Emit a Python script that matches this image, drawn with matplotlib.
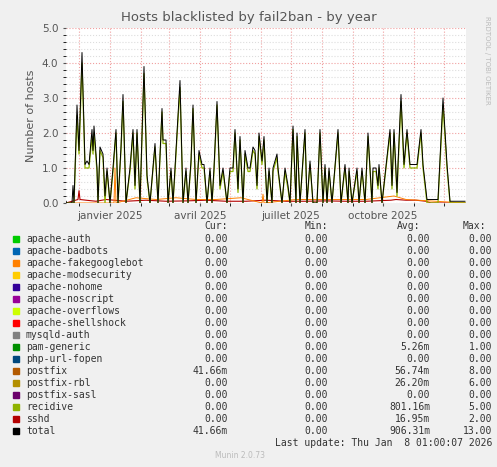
import matplotlib
matplotlib.use('Agg')
import matplotlib.pyplot as plt
import matplotlib.dates as mdates
import numpy as np
import datetime as dt

START = dt.datetime(2024, 11, 18)

# total: day offset from START, value
total_days = [0, 1, 6, 7, 8, 11, 13, 16, 19, 21, 23, 26, 27, 28, 31, 32, 34, 37, 39, 41, 44, 47, 50, 52, 55, 57,
              60, 64, 67, 69, 71, 74, 78, 81, 84, 89, 92, 96, 97, 100, 102, 105, 107, 109, 111, 114, 117, 120,
              122, 125, 127, 130, 133, 136, 138, 141, 144, 146, 148, 151, 154, 157, 161, 164, 167, 169, 172,
              174, 177, 179, 182, 184, 187, 189, 191, 193, 196, 198, 201, 203, 206, 207, 211, 212, 216, 219,
              222, 224, 227, 230, 231, 234, 239, 241, 244, 247, 251, 254, 257, 259, 261, 263, 266, 272, 275,
              279, 282, 283, 286, 291, 293, 296, 299, 302, 306, 307, 310, 312, 313, 316, 324, 326, 328, 331,
              332, 335, 338, 341, 344, 351, 355, 357, 361, 372, 377, 381, 384, 399]
total_vals = [0.05, 0.0, 0.0, 0.5, 0.0, 2.8, 1.5, 4.3, 1.1, 1.2, 1.1, 2.1, 1.5, 2.2, 1.0, 0.0, 1.6, 1.4, 0.2, 1.0,
              0.0, 1.0, 2.1, 0.0, 1.6, 3.1, 0.0, 1.0, 2.1, 0.5, 2.1, 0.0, 3.9, 0.8, 0.0, 1.7, 0.0, 2.7, 1.8,
              1.8, 0.0, 1.0, 0.0, 1.0, 2.0, 3.5, 0.0, 1.0, 0.0, 1.2, 2.8, 0.0, 1.5, 1.1, 1.1, 0.0, 1.0, 0.0,
              1.0, 2.9, 0.5, 1.0, 0.0, 1.0, 1.0, 2.1, 0.4, 1.9, 0.0, 1.5, 1.0, 1.0, 1.6, 1.5, 0.5, 2.0, 1.2,
              1.9, 0.0, 1.0, 0.0, 1.0, 1.4, 1.0, 0.0, 1.0, 0.5, 0.0, 2.2, 0.0, 2.0, 0.0, 2.1, 0.0, 1.2, 0.0,
              0.0, 2.1, 0.0, 1.1, 0.0, 1.0, 0.0, 2.1, 0.0, 1.1, 0.0, 1.0, 0.0, 1.0, 0.0, 1.0, 0.0, 2.0, 0.0,
              1.0, 1.0, 0.5, 1.1, 0.0, 2.1, 0.5, 2.1, 0.3, 1.1, 3.1, 1.1, 2.1, 1.1, 1.1, 2.1, 1.1, 0.1, 0.1,
              3.0, 1.1, 0.05, 0.05]
recidive_vals = [0.0, 0.0, 0.0, 0.0, 0.0, 2.5, 1.4, 4.0, 1.0, 1.0, 1.0, 1.9, 1.4, 2.0, 0.9, 0.0, 1.5, 1.3, 0.0,
                 0.9, 0.0, 0.9, 2.0, 0.0, 1.5, 2.9, 0.0, 0.9, 2.0, 0.4, 2.0, 0.0, 3.7, 0.7, 0.0, 1.6, 0.0,
                 2.6, 1.7, 1.7, 0.0, 0.9, 0.0, 0.9, 1.9, 3.3, 0.0, 0.9, 0.0, 1.1, 2.7, 0.0, 1.4, 1.0, 1.0,
                 0.0, 0.9, 0.0, 0.9, 2.8, 0.4, 0.9, 0.0, 0.9, 0.9, 2.0, 0.3, 1.8, 0.0, 1.4, 0.9, 0.9, 1.5,
                 1.4, 0.4, 1.9, 1.1, 1.8, 0.0, 0.9, 0.0, 0.9, 1.3, 0.9, 0.0, 0.9, 0.4, 0.0, 2.1, 0.0, 1.9,
                 0.0, 2.0, 0.0, 1.1, 0.0, 0.0, 2.0, 0.0, 1.0, 0.0, 0.9, 0.0, 2.0, 0.0, 1.0, 0.0, 0.9, 0.0,
                 0.9, 0.0, 0.9, 0.0, 1.9, 0.0, 0.9, 0.9, 0.4, 1.0, 0.0, 2.0, 0.4, 2.0, 0.2, 1.0, 2.9, 1.0,
                 2.0, 1.0, 1.0, 2.0, 1.0, 0.0, 0.0, 2.8, 1.0, 0.0, 0.0]
sshd_days = [0, 12, 13, 14, 20, 30, 40, 60, 80, 100, 120, 140, 160, 180, 200, 220, 240, 260, 280, 300, 325, 330,
             340, 350, 360, 365, 380, 399]
sshd_vals = [0.0, 0.1, 0.35, 0.1, 0.08, 0.05, 0.1, 0.05, 0.08, 0.05, 0.06, 0.08, 0.05, 0.05, 0.08, 0.05,
             0.05, 0.06, 0.05, 0.05, 0.08, 0.1, 0.08, 0.08, 0.05, 0.0, 0.0, 0.0]
postfix_days = [0, 48, 49, 50, 70, 90, 110, 130, 150, 175, 196, 197, 198, 230, 260, 300, 328, 340, 399]
postfix_vals = [0.0, 0.0, 1.0, 0.0, 0.15, 0.1, 0.15, 0.1, 0.1, 0.15, 0.0, 0.25, 0.0, 0.1, 0.1, 0.1, 0.2, 0.1, 0.0]

legend_names = ['apache-auth', 'apache-badbots', 'apache-fakegooglebot', 'apache-modsecurity', 'apache-nohome',
                'apache-noscript', 'apache-overflows', 'apache-shellshock', 'mysqld-auth', 'pam-generic',
                'php-url-fopen', 'postfix', 'postfix-rbl', 'postfix-sasl', 'recidive', 'sshd', 'total']
legend_colors = ['#00CC00', '#0066B3', '#FF8000', '#FFCC00', '#330099', '#990099', '#CCFF00', '#FF0000',
                 '#808080', '#008F00', '#00487D', '#B35A00', '#B38F00', '#6B006B', '#8FB300', '#B30000', '#000000']
cur = ['0.00'] * 11 + ['41.66m', '0.00', '0.00', '0.00', '0.00', '41.66m']
mins = ['0.00'] * 17
avg = ['0.00'] * 9 + ['5.26m', '0.00', '56.74m', '26.20m', '0.00', '801.16m', '16.95m', '906.31m']
maxs = ['0.00'] * 9 + ['1.00', '0.00', '8.00', '6.00', '0.00', '5.00', '2.00', '13.00']

fig = plt.figure(figsize=(4.97, 4.67), dpi=100, facecolor='#F0F0F0')
W, H = 497, 467
ax = fig.add_axes([66 / W, 1 - 203 / H, 400 / W, 175 / H])
ax.set_facecolor('white')

to_dates = lambda ds: [START + dt.timedelta(days=d) for d in ds]
ax.plot(to_dates(total_days), recidive_vals, color='#8FB300', lw=0.9, zorder=3)
ax.plot(to_dates(total_days), total_vals, color='#000000', lw=0.7, zorder=4)
ax.plot(to_dates(sshd_days), sshd_vals, color='#B30000', lw=0.8, zorder=2)
ax.plot(to_dates(postfix_days), postfix_vals, color='#FF8000', lw=0.7, zorder=2)

ax.set_xlim(START, START + dt.timedelta(days=400))
ax.set_ylim(0, 5)
ax.set_yticks(np.arange(0, 5.01, 1.0))
ax.set_yticklabels(['0.0', '1.0', '2.0', '3.0', '4.0', '5.0'])
ax.set_yticks(np.arange(0, 5.01, 0.2), minor=True)
ax.xaxis.set_major_locator(mdates.MonthLocator(bymonth=[1, 4, 7, 10]))
ax.xaxis.set_minor_locator(mdates.MonthLocator())
months = {1: 'janvier', 4: 'avril', 7: 'juillet', 10: 'octobre'}
ax.xaxis.set_major_formatter(plt.FuncFormatter(
    lambda v, p: '%s %d' % (months[mdates.num2date(v).month], mdates.num2date(v).year)))
ax.grid(which='minor', color='#DDDDDD', ls=':', lw=0.8)
ax.grid(which='major', color='#F0A0A0', ls=':', lw=0.8)
ax.grid(which='minor', axis='x', color='#F0A0A0', ls=':', lw=0.8)
ax.tick_params(labelsize=7.5, colors='#555555', length=2)
for s in ax.spines.values():
    s.set_visible(False)
ax.set_ylabel('Number of hosts', fontsize=8, color='#555555')
fig.text(0.5, 1 - 18 / H, 'Hosts blacklisted by fail2ban - by year', ha='center', va='center',
         fontsize=9.5, color='#555555')
fig.text(487 / W, 1 - 60 / H, 'RRDTOOL / TOBI OETIKER', rotation=270, ha='center', va='center',
         fontsize=5, color='#BBBBBB')

mono = dict(family='DejaVu Sans Mono', fontsize=7, color='#333333', va='center')
y0 = 226
fig.text(228 / W, 1 - y0 / H, 'Cur:', ha='right', **mono)
fig.text(328 / W, 1 - y0 / H, 'Min:', ha='right', **mono)
fig.text(420 / W, 1 - y0 / H, 'Avg:', ha='right', **mono)
fig.text(486 / W, 1 - y0 / H, 'Max:', ha='right', **mono)
for i, name in enumerate(legend_names):
    y = 1 - (239 + i * 12) / H
    fig.patches.append(plt.Rectangle((13 / W, y - 3 / H), 6 / W, 6 / H, transform=fig.transFigure,
                                     color=legend_colors[i]))
    fig.text(26 / W, y, name, ha='left', **mono)
    fig.text(228 / W, y, cur[i], ha='right', **mono)
    fig.text(328 / W, y, mins[i], ha='right', **mono)
    fig.text(430 / W, y, avg[i], ha='right', **mono)
    fig.text(492 / W, y, maxs[i], ha='right', **mono)
fig.text(492 / W, 1 - 443 / H, 'Last update: Thu Jan  8 01:00:07 2026', ha='right', **mono)
fig.text(240 / W, 1 - 456 / H, 'Munin 2.0.73', ha='center', va='center', fontsize=5.5, color='#BBBBBB')

fig.savefig('out.png', dpi=100, facecolor=fig.get_facecolor())
